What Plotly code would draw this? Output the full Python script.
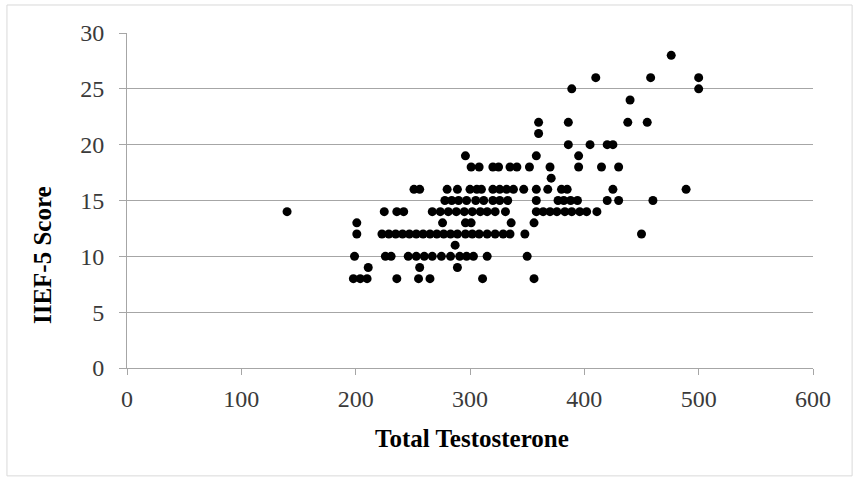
import plotly.graph_objects as go

# IIEF-5 score levels and the testosterone values read at each level
total_testosterone = [
    476,
    410, 458, 500,
    389, 500,
    440,
    360, 386, 438, 455,
    360,
    386, 405, 420, 425,
    296, 358, 395,
    301, 308, 320, 325, 335, 341, 352, 370, 395, 415, 430,
    371,
    251, 256, 280, 289, 300, 306, 310, 320, 326, 332, 338, 347, 358, 368, 380, 385, 425, 489,
    278, 284, 290, 297, 305, 312, 320, 326, 333, 358, 377, 382, 388, 394, 420, 430, 460,
    140, 225, 236, 242, 267, 274, 281, 288, 295, 302, 309, 315, 322, 331, 358, 364, 370, 376, 383, 389, 396, 402, 411,
    201, 276, 296, 301, 336, 356,
    201, 223, 229, 235, 241, 247, 253, 259, 265, 271, 277, 283, 289, 296, 302, 308, 315, 322, 329, 335, 348, 450,
    287,
    199, 226, 231, 246, 253, 260, 267, 275, 283, 291, 297, 303, 315, 350,
    211, 256, 289,
    198, 204, 210, 236, 255, 265, 311, 356,
]
iief5_score = (
    [28] * 1 + [26] * 3 + [25] * 2 + [24] * 1 + [22] * 4 + [21] * 1 + [20] * 4
    + [19] * 3 + [18] * 11 + [17] * 1 + [16] * 18 + [15] * 17 + [14] * 23
    + [13] * 6 + [12] * 22 + [11] * 1 + [10] * 14 + [9] * 3 + [8] * 8
)

x_ticks = [0, 100, 200, 300, 400, 500, 600]
y_ticks = [0, 5, 10, 15, 20, 25, 30]
x_title = "Total Testosterone"
y_title = "IIEF-5 Score"

axis_grey = "#a6a6a6"
text_grey = "#3a3a3a"
serif = "Liberation Serif, Times New Roman, serif"

fig = go.Figure(
    go.Scatter(
        x=total_testosterone,
        y=iief5_score,
        mode="markers",
        marker=dict(color="black", size=9, line=dict(width=0)),
        hoverinfo="x+y",
    )
)

fig.update_layout(
    width=855,
    height=482,
    margin=dict(l=127, r=42, t=33, b=114),
    paper_bgcolor="white",
    plot_bgcolor="white",
    showlegend=False,
    font=dict(family=serif, size=24, color=text_grey),
)

fig.update_xaxes(
    range=[0, 600],
    tickvals=x_ticks,
    ticktext=[str(v) for v in x_ticks],
    showgrid=False,
    zeroline=False,
    showline=True,
    linecolor=axis_grey,
    linewidth=1,
    ticks="outside",
    ticklen=6,
    tickcolor=axis_grey,
    ticklabelstandoff=3,
    fixedrange=True,
)
fig.update_yaxes(
    range=[0, 30],
    tickvals=y_ticks,
    ticktext=[str(v) for v in y_ticks],
    showgrid=True,
    gridcolor=axis_grey,
    gridwidth=1,
    zeroline=False,
    showline=True,
    linecolor=axis_grey,
    linewidth=1,
    ticks="outside",
    ticklen=7,
    tickcolor=axis_grey,
    ticklabelstandoff=10,
    fixedrange=True,
)

fig.add_annotation(
    text=f"<b>{y_title}</b>",
    xref="paper", yref="paper",
    x=-0.124, y=0.337,
    xanchor="center", yanchor="middle",
    textangle=-90,
    showarrow=False,
    font=dict(family=serif, size=25, color="black"),
)
fig.add_annotation(
    text=f"<b>{x_title}</b>",
    xref="paper", yref="paper",
    x=0.503, y=-0.209,
    xanchor="center", yanchor="middle",
    showarrow=False,
    font=dict(family=serif, size=25, color="black"),
)

fig.add_shape(
    type="rect",
    xref="paper", yref="paper",
    x0=-0.175, x1=1.057, y0=-0.322, y1=1.0836,
    line=dict(color="#d9d9d9", width=1),
    fillcolor="rgba(0,0,0,0)",
    layer="below",
)

fig.write_html("out.html")
